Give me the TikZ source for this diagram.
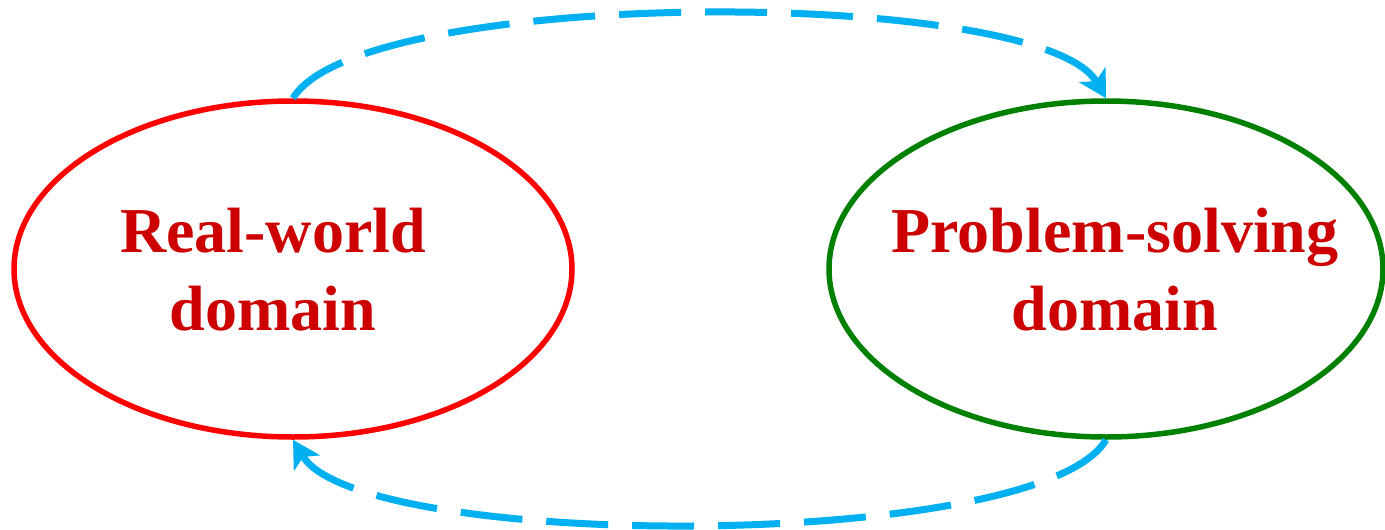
\documentclass[tikz,border=0pt]{standalone}
\usepackage{fontspec}
\setmainfont{Liberation Serif}
\usetikzlibrary{shapes.geometric,arrows.meta}
\definecolor{arrowblue}{HTML}{00B0F0}
\definecolor{txtred}{HTML}{CC0000}
\definecolor{ellred}{HTML}{FF0000}
\definecolor{ellgreen}{HTML}{008000}
\tikzset{
  domainell/.style={ellipse, draw, line width=5.5pt, inner sep=0pt,
    minimum width=558pt, minimum height=336pt},
  domaintxt/.style={text=txtred, align=center, inner sep=0pt,
    font=\fontsize{64pt}{78pt}\selectfont\bfseries},
  flowarrow/.style={draw=arrowblue, line width=7pt,
    dash pattern=on 62pt off 24pt,
    -{Stealth[length=27pt,width=30pt,inset=7pt]}}
}
\begin{document}
\begin{tikzpicture}[x=1pt,y=-1pt]
\useasboundingbox (0,0) rectangle (1385,530);
\node[domainell, draw=ellred] (L) at (293,269) {};
\node[domainell, draw=ellgreen, minimum width=554pt] (R) at (1106,269) {};
\node[domaintxt] (Lt) at (273,270) {Real-world\\domain};
\node[domaintxt] (Rt) at (1115,270) {Problem-solving\\domain};
\draw[flowarrow] (L.north) .. controls (360,-14) and (1041,-14) .. (R.north);
\draw[flowarrow] (R.south) .. controls (1041,552) and (360,552) .. (L.south);
\end{tikzpicture}
\end{document}
